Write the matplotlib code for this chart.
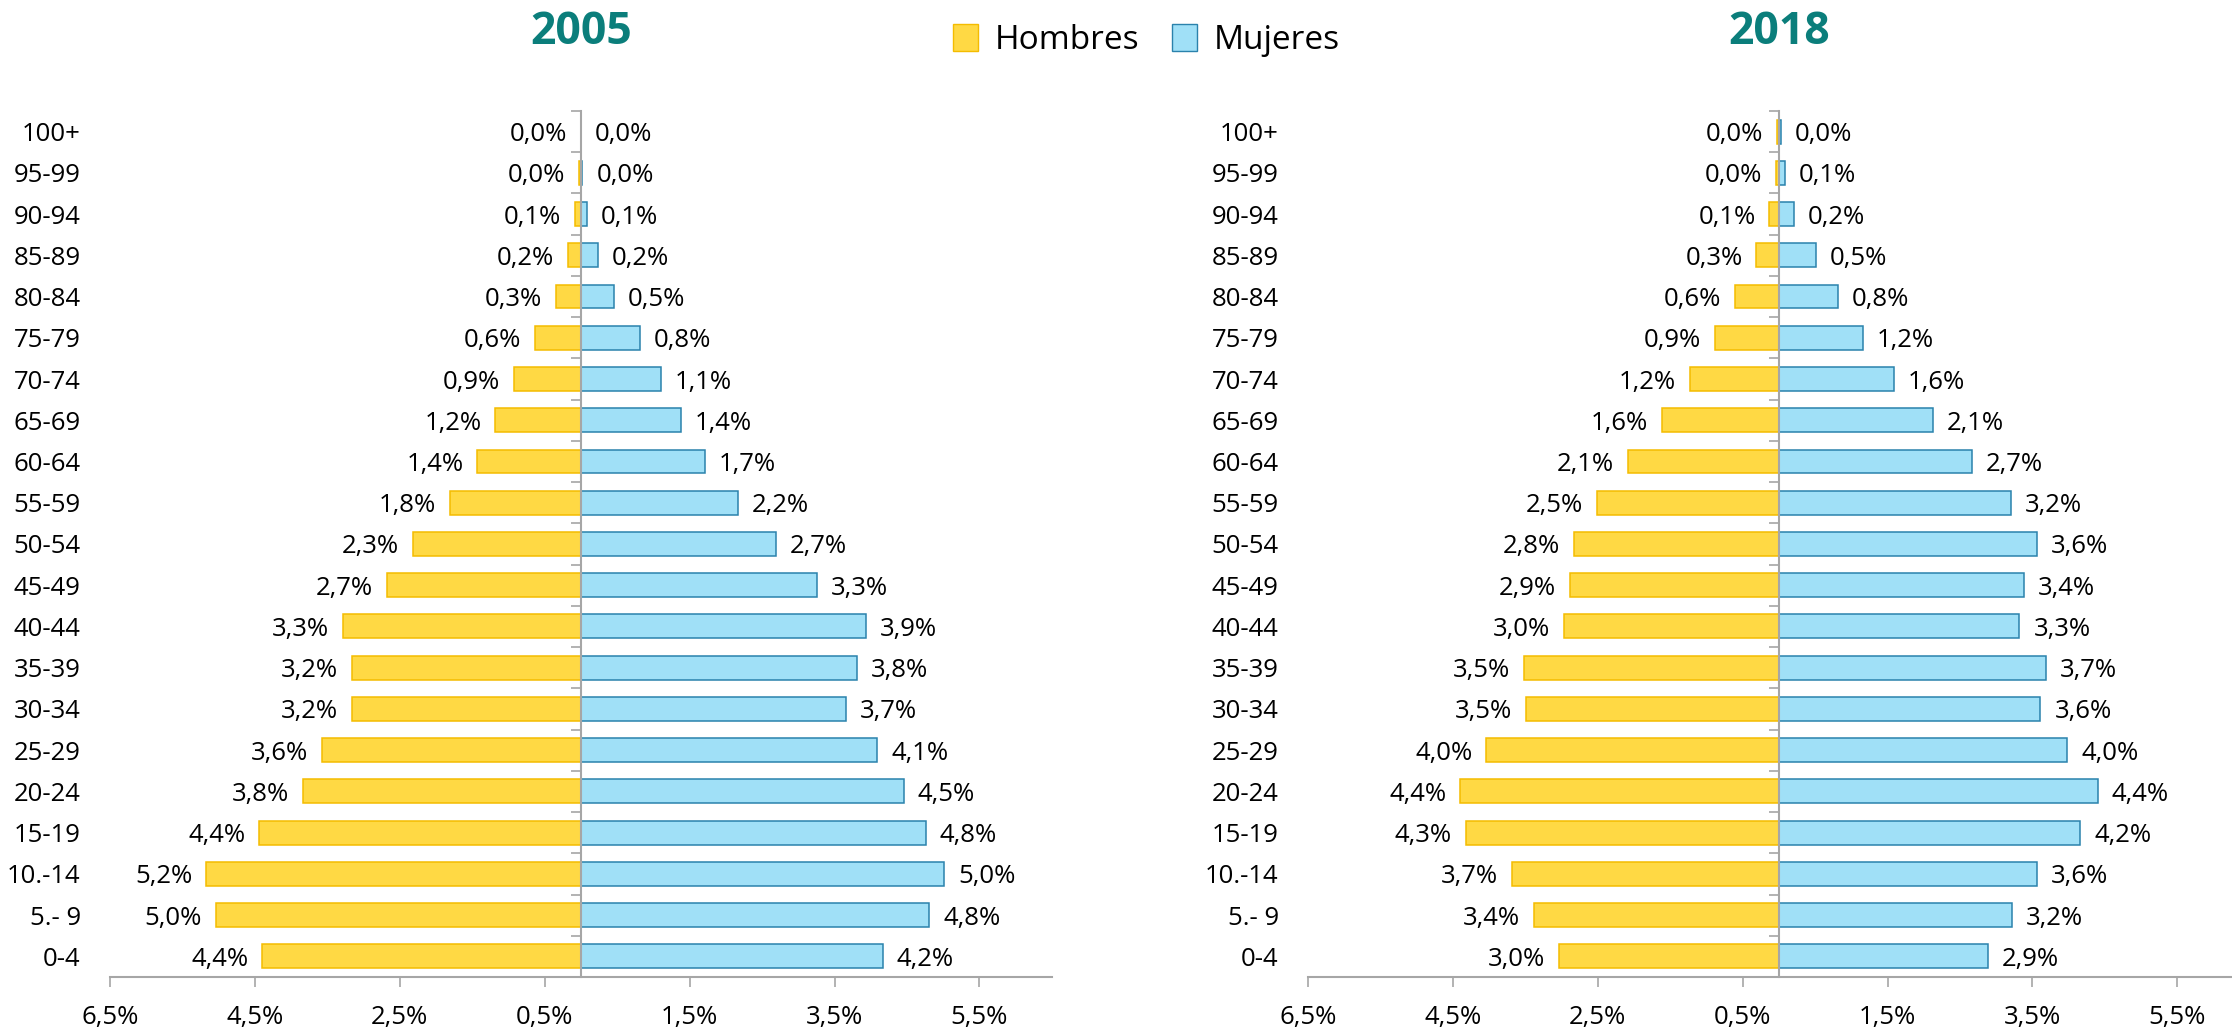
import numpy as np
import matplotlib
matplotlib.use("Agg")
import matplotlib.pyplot as plt
from matplotlib.patches import Patch

plt.rcParams['font.family'] = ['Open Sans', 'DejaVu Sans']

# grupos de edad, de abajo hacia arriba
edades = ["0-4", "5.- 9", "10.-14", "15-19", "20-24", "25-29", "30-34", "35-39",
          "40-44", "45-49", "50-54", "55-59", "60-64", "65-69", "70-74", "75-79",
          "80-84", "85-89", "90-94", "95-99", "100+"]

hombres_2005 = [4.40, 5.04, 5.17, 4.44, 3.84, 3.58, 3.16, 3.16, 3.28, 2.68, 2.32,
                1.81, 1.43, 1.18, 0.92, 0.64, 0.34, 0.18, 0.08, 0.02, 0.0]
mujeres_2005 = [4.17, 4.81, 5.01, 4.76, 4.46, 4.09, 3.66, 3.81, 3.94, 3.26, 2.69,
                2.17, 1.71, 1.38, 1.10, 0.81, 0.46, 0.24, 0.08, 0.02, 0.0]

hombres_2018 = [3.03, 3.38, 3.69, 4.32, 4.40, 4.04, 3.49, 3.52, 2.96, 2.88, 2.83,
                2.51, 2.08, 1.62, 1.23, 0.88, 0.61, 0.31, 0.13, 0.04, 0.02]
mujeres_2018 = [2.89, 3.22, 3.56, 4.16, 4.40, 3.98, 3.61, 3.69, 3.32, 3.38, 3.56,
                3.20, 2.67, 2.12, 1.59, 1.16, 0.81, 0.51, 0.21, 0.08, 0.03]

xticks = [-6.5, -4.5, -2.5, -0.5, 1.5, 3.5, 5.5]

c_h = "#FFD944"
c_h_borde = "#F4BC00"
c_m = "#A0E0F7"
c_m_borde = "#2A82AC"
gris = "#A6A6A6"
teal = "#0B7E7B"
fs = 18.5


def fmt(v):
    return f"{abs(v):.1f}".replace(".", ",") + "%"


def piramide(ax, hombres, mujeres, titulo):
    y = np.arange(len(edades))
    h = -np.array(hombres)
    m = np.array(mujeres)
    ax.barh(y, h, height=0.58, color=c_h, edgecolor=c_h_borde, linewidth=1.1)
    ax.barh(y, m, height=0.58, color=c_m, edgecolor=c_m_borde, linewidth=1.1)
    for i in range(len(edades)):
        ax.annotate(fmt(hombres[i]), (h[i], y[i]), xytext=(-10, 0),
                    textcoords="offset points", ha="right", va="center_baseline",
                    fontsize=fs)
        ax.annotate(fmt(mujeres[i]), (m[i], y[i]), xytext=(10, 0),
                    textcoords="offset points", ha="left", va="center_baseline",
                    fontsize=fs)

    ax.set_xlim(-6.5, 6.5)
    ax.set_ylim(-0.5, len(edades) - 0.5)

    for s in ["top", "right"]:
        ax.spines[s].set_visible(False)
    ax.spines["left"].set_position(("data", 0))
    ax.spines["left"].set_color(gris)
    ax.spines["left"].set_linewidth(1.5)
    ax.spines["bottom"].set_color(gris)
    ax.spines["bottom"].set_linewidth(1.5)

    ax.set_yticks(np.arange(len(edades) + 1) - 0.5)
    ax.set_yticklabels([])
    ax.tick_params(axis="y", length=7, width=1.2, color=gris, direction="out")

    ax.set_xticks(xticks)
    ax.set_xticklabels([fmt(t) for t in xticks], fontsize=fs)
    ax.tick_params(axis="x", length=7.5, width=1.2, color=gris, pad=13)

    for i, e in enumerate(edades):
        ax.text(-0.031, i, e, transform=ax.get_yaxis_transform(),
                ha="right", va="center_baseline", fontsize=fs)

    pos = ax.get_position()
    fig.text((pos.x0 + pos.x1) / 2, 0.968, titulo, ha="center", va="center",
             fontsize=32, fontweight="bold", color=teal)


fig = plt.figure(figsize=(22.32, 10.31), dpi=100)
ax1 = fig.add_axes([0.04928, 0.05238, 0.4220, 0.8400])
ax2 = fig.add_axes([0.5860, 0.05238, 0.4220, 0.8400])

piramide(ax1, hombres_2005, mujeres_2005, "2005")
piramide(ax2, hombres_2018, mujeres_2018, "2018")

handles = [Patch(facecolor=c_h, edgecolor=c_h_borde, label="Hombres"),
           Patch(facecolor=c_m, edgecolor=c_m_borde, label="Mujeres")]
fig.legend(handles=handles, loc="center", bbox_to_anchor=(0.5136, 0.961), ncol=2,
           frameon=False, fontsize=24, handlelength=0.75, handleheight=0.9,
           handletextpad=0.5, columnspacing=1.0)

fig.savefig("out.png", dpi=100)
